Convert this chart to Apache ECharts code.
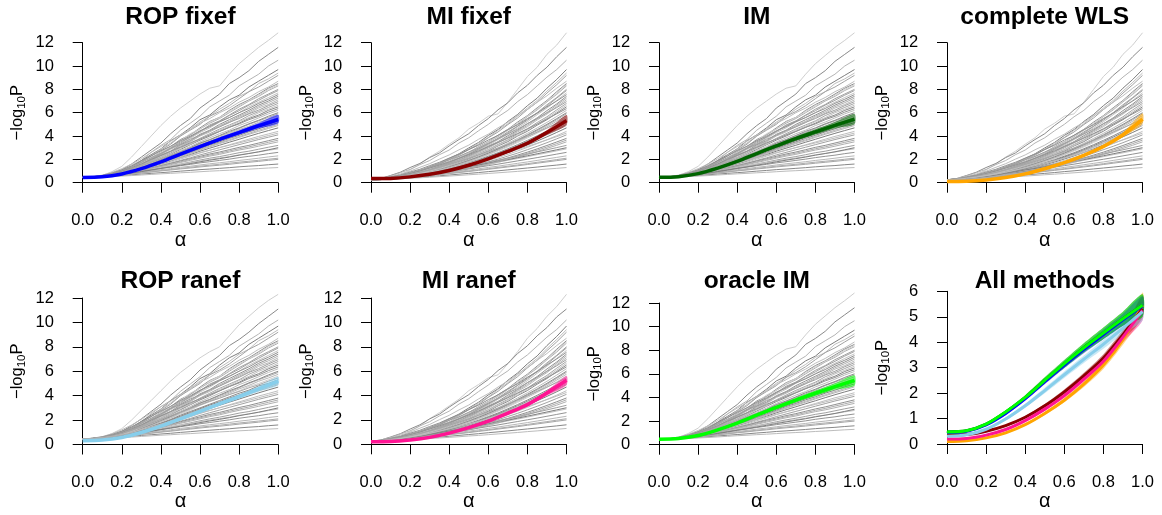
<!DOCTYPE html>
<html>
<head>
<meta charset="utf-8">
<script src="https://cdn.jsdelivr.net/npm/echarts@6/dist/echarts.min.js"></script>
<style>
  html, body { margin: 0; padding: 0; background: #ffffff; }
  #chart { width: 1162px; height: 515px; }
</style>
</head>
<body>
<div id="chart"></div>
<script>
// α values at which the replicate curves and the method summaries are stored
const alphaFine = [0, 0.05, 0.1, 0.15, 0.2, 0.25, 0.3, 0.35, 0.4, 0.45, 0.5,
                   0.55, 0.6, 0.65, 0.7, 0.75, 0.8, 0.85, 0.9, 0.95, 1];
const alphaCoarse = [0, 0.1, 0.2, 0.3, 0.4, 0.5, 0.6, 0.7, 0.8, 0.9, 1];

const xTickLabels = ['0.0', '0.2', '0.4', '0.6', '0.8', '1.0'];

// Replicate -log10 P curves, ROP / IM type methods (near-linear growth)
const greyLinear = [
  [.45,.5,.62,.95,1.4,2.2,3.1,4.0,4.9,5.7,6.4,7.0,7.6,8.1,8.3,9.3,10.2,10.9,11.6,12.2,12.85],
  [.45,.49,.6,.8,1.1,1.6,2.2,2.8,3.4,4.2,4.9,5.5,6.4,7.0,7.6,8.5,9.0,9.6,10.4,11.0,11.6],
  [.45,.5,.56,.77,1.0,1.5,1.9,2.6,3.2,3.7,4.5,5.1,5.7,6.5,7.0,7.5,8.3,8.8,9.3,10.0,10.5],
  [.45,.48,.57,.72,1.02,1.35,1.9,2.4,2.9,3.6,4.1,4.7,5.4,5.8,6.5,7.1,7.5,8.2,8.7,9.2,9.7],
  [.46,.5,.55,.74,.97,1.4,1.75,2.3,2.9,3.4,4.0,4.6,5.2,5.7,6.3,6.8,7.4,7.8,8.5,8.9,9.4],
  [.44,.49,.57,.7,1.0,1.3,1.8,2.3,2.8,3.3,4.0,4.5,5.0,5.7,6.1,6.6,7.2,7.8,8.2,8.7,9.2],
  [.45,.48,.56,.68,.95,1.25,1.7,2.1,2.65,3.1,3.7,4.1,4.7,5.25,5.6,6.2,6.7,7.1,7.6,8.1,8.5],
  [.45,.49,.55,.7,.9,1.25,1.6,2.1,2.6,3.0,3.6,4.1,4.6,5.1,5.5,6.0,6.5,7.0,7.4,7.9,8.3],
  [.45,.48,.55,.67,.92,1.2,1.6,2.0,2.5,2.95,3.5,3.9,4.4,4.95,5.3,5.8,6.3,6.7,7.2,7.6,8.0],
  [.45,.48,.53,.68,.88,1.2,1.5,2.0,2.4,2.85,3.3,3.8,4.3,4.7,5.2,5.6,6.0,6.5,6.9,7.3,7.7],
  [.45,.49,.53,.66,.86,1.16,1.5,1.9,2.35,2.7,3.25,3.6,4.15,4.5,5.0,5.4,5.8,6.2,6.65,7.0,7.4],
  [.45,.47,.53,.65,.85,1.1,1.45,1.85,2.2,2.65,3.1,3.5,4.0,4.35,4.8,5.15,5.6,5.95,6.4,6.7,7.1],
  [.45,.48,.52,.64,.84,1.1,1.4,1.8,2.15,2.55,3.0,3.35,3.8,4.2,4.6,4.95,5.3,5.75,6.1,6.45,6.8],
  [.45,.47,.53,.62,.82,1.05,1.37,1.7,2.1,2.45,2.85,3.25,3.65,4.0,4.4,4.75,5.1,5.5,5.8,6.2,6.5],
  [.45,.47,.52,.62,.79,1.03,1.3,1.65,2.0,2.35,2.75,3.1,3.5,3.85,4.2,4.5,4.9,5.2,5.55,5.9,6.2],
  [.45,.47,.51,.61,.78,1.0,1.27,1.6,1.9,2.25,2.6,2.95,3.35,3.65,4.0,4.3,4.65,5.0,5.3,5.6,5.9],
  [.45,.47,.51,.6,.76,.97,1.22,1.52,1.85,2.15,2.5,2.8,3.2,3.5,3.8,4.1,4.4,4.75,5.0,5.3,5.6],
  [.45,.47,.51,.6,.74,.94,1.18,1.47,1.76,2.05,2.4,2.7,3.0,3.3,3.6,3.9,4.2,4.45,4.8,5.0,5.3],
  [.45,.47,.5,.59,.72,.91,1.13,1.41,1.68,1.95,2.27,2.54,2.86,3.13,3.41,3.68,3.95,4.23,4.5,4.75,5.0],
  [.45,.47,.5,.58,.71,.88,1.09,1.34,1.6,1.85,2.15,2.41,2.7,2.96,3.21,3.47,3.72,3.98,4.23,4.47,4.7],
  [.45,.47,.5,.57,.69,.85,1.04,1.28,1.52,1.75,2.03,2.27,2.54,2.78,3.02,3.25,3.49,3.73,3.97,4.18,4.4],
  [.45,.47,.5,.56,.67,.82,1.0,1.22,1.44,1.65,1.91,2.13,2.38,2.6,2.82,3.04,3.26,3.48,3.7,3.9,4.1],
  [.45,.48,.55,.65,.79,.92,1.09,1.25,1.46,1.66,1.86,2.06,2.26,2.46,2.63,2.83,3.03,3.2,3.4,3.6,3.8],
  [.45,.48,.54,.63,.76,.88,1.03,1.18,1.37,1.55,1.73,1.91,2.1,2.28,2.43,2.62,2.8,2.95,3.13,3.32,3.5],
  [.45,.48,.53,.62,.73,.84,.97,1.11,1.28,1.44,1.6,1.77,1.94,2.1,2.24,2.4,2.57,2.7,2.87,3.04,3.2],
  [.45,.5,.57,.67,.79,.92,1.06,1.19,1.33,1.45,1.6,1.72,1.87,1.99,2.12,2.24,2.39,2.51,2.63,2.78,2.9],
  [.45,.49,.56,.64,.75,.86,.99,1.1,1.22,1.33,1.46,1.57,1.7,1.8,1.91,2.02,2.15,2.26,2.36,2.49,2.6],
  [.45,.49,.54,.62,.71,.8,.91,1.01,1.12,1.21,1.32,1.41,1.52,1.62,1.71,1.8,1.91,2.0,2.1,2.21,2.3],
  [.45,.48,.53,.59,.67,.74,.84,.92,1.01,1.09,1.18,1.26,1.35,1.43,1.5,1.58,1.67,1.75,1.83,1.92,2.0],
  [.45,.47,.51,.55,.61,.67,.74,.8,.86,.92,.99,1.05,1.12,1.17,1.23,1.29,1.36,1.42,1.47,1.54,1.6],
  [.45,.47,.49,.53,.57,.61,.66,.71,.76,.8,.85,.89,.94,.99,1.03,1.07,1.12,1.16,1.21,1.26,1.3],
  [.44,.47,.52,.58,.66,.75,.85,.94,1.04,1.13,1.23,1.32,1.42,1.5,1.58,1.67,1.76,1.84,1.92,2.01,2.1],
  [.45,.48,.55,.69,.93,1.3,1.65,2.15,2.6,3.1,3.6,4.2,4.6,5.2,5.6,6.1,6.6,7.05,7.5,8.0,8.4],
  [.45,.47,.52,.61,.8,1.0,1.3,1.6,1.95,2.3,2.65,3.0,3.4,3.7,4.05,4.4,4.7,5.05,5.35,5.7,6.0],
  [.45,.47,.5,.59,.72,.9,1.1,1.38,1.64,1.92,2.2,2.5,2.8,3.07,3.35,3.6,3.88,4.15,4.4,4.65,4.9],
  [.45,.48,.54,.62,.72,.83,.95,1.08,1.22,1.36,1.5,1.64,1.79,1.93,2.06,2.2,2.36,2.5,2.65,2.82,3.0],
  [.45,.52,.65,.88,1.2,1.6,2.05,2.6,3.1,3.55,4.1,4.55,5.1,5.5,6.0,6.4,6.9,7.3,7.8,8.2,8.7],
  [.45,.48,.54,.68,.89,1.22,1.55,2.03,2.44,2.93,3.4,3.9,4.38,4.87,5.27,5.76,6.17,6.65,7.06,7.5,7.9],
  [.45,.51,.62,.82,1.1,1.43,1.88,2.28,2.74,3.13,3.6,3.98,4.45,4.8,5.23,5.58,6.0,6.36,6.8,7.15,7.55],
  [.45,.48,.54,.64,.87,1.12,1.48,1.86,2.3,2.68,3.18,3.56,4.07,4.44,4.89,5.26,5.7,6.07,6.52,6.86,7.25],
  [.45,.5,.6,.79,1.03,1.37,1.74,2.15,2.52,2.94,3.3,3.72,4.07,4.47,4.78,5.18,5.5,5.9,6.22,6.6,6.95],
  [.45,.47,.53,.63,.83,1.06,1.39,1.74,2.13,2.48,2.95,3.29,3.76,4.1,4.5,4.84,5.24,5.58,5.99,6.3,6.65],
  [.45,.5,.59,.76,.97,1.29,1.62,1.99,2.33,2.7,3.04,3.42,3.74,4.09,4.39,4.75,5.04,5.4,5.69,6.05,6.35],
  [.45,.47,.52,.6,.78,.97,1.26,1.55,1.89,2.19,2.58,2.88,3.27,3.57,3.91,4.2,4.55,4.84,5.18,5.45,5.75],
  [.45,.49,.57,.71,.89,1.16,1.44,1.76,2.04,2.36,2.64,2.96,3.24,3.54,3.79,4.09,4.34,4.64,4.89,5.19,5.45],
  [.45,.47,.5,.6,.72,.93,1.15,1.45,1.71,2.01,2.32,2.62,2.93,3.23,3.5,3.8,4.06,4.36,4.62,4.9,5.15],
  [.45,.48,.55,.64,.79,.98,1.21,1.44,1.67,1.89,2.12,2.35,2.58,2.79,3.0,3.21,3.41,3.62,3.83,4.04,4.25],
  [.45,.48,.55,.64,.77,.9,1.06,1.22,1.41,1.6,1.79,1.99,2.18,2.37,2.53,2.72,2.91,3.07,3.27,3.46,3.65]
];

// Replicate -log10 P curves, MI / WLS type methods (convex growth)
const greyConvex = [
  [.25,.3,.45,.65,1.1,1.6,2.2,2.7,3.3,3.85,4.6,5.1,5.7,5.9,6.9,8.0,9.1,9.9,11.0,11.8,12.85],
  [.25,.36,.62,.9,1.3,1.65,2.15,2.55,3.15,3.7,4.2,4.9,5.5,6.25,6.85,7.7,8.35,9.2,9.9,10.8,11.6],
  [.25,.35,.58,.86,1.14,1.55,1.9,2.4,2.8,3.4,3.85,4.45,5.0,5.65,6.2,6.95,7.55,8.3,9.05,9.7,10.5],
  [.25,.3,.41,.55,.78,1.0,1.36,1.66,2.08,2.48,2.98,3.45,4.05,4.55,5.25,5.85,6.6,7.25,8.1,8.85,9.7],
  [.25,.3,.39,.56,.74,1.02,1.28,1.65,2.0,2.45,2.86,3.4,3.88,4.5,5.05,5.7,6.4,7.05,7.85,8.6,9.4],
  [.25,.29,.4,.54,.75,.97,1.3,1.58,1.98,2.36,2.84,3.28,3.85,4.35,4.98,5.55,6.27,6.9,7.68,8.4,9.2],
  [.25,.29,.38,.53,.7,.94,1.18,1.52,1.82,2.22,2.6,3.08,3.52,4.07,4.57,5.2,5.75,6.42,7.05,7.8,8.5],
  [.25,.29,.37,.52,.7,.9,1.19,1.46,1.82,2.15,2.58,2.97,3.48,3.93,4.5,5.02,5.66,6.24,6.93,7.57,8.3],
  [.25,.29,.38,.5,.69,.88,1.15,1.41,1.75,2.08,2.48,2.88,3.35,3.8,4.35,4.85,5.45,6.0,6.68,7.3,8.0],
  [.25,.29,.36,.5,.67,.86,1.1,1.38,1.67,2.03,2.38,2.8,3.2,3.7,4.15,4.7,5.22,5.83,6.4,7.05,7.7],
  [.25,.28,.37,.49,.65,.83,1.08,1.32,1.63,1.94,2.31,2.67,3.12,3.52,4.03,4.5,5.05,5.56,6.18,6.75,7.4],
  [.25,.28,.36,.48,.62,.82,1.03,1.29,1.56,1.89,2.21,2.6,2.96,3.42,3.83,4.35,4.8,5.38,5.88,6.52,7.1],
  [.25,.28,.35,.47,.61,.8,.99,1.25,1.5,1.82,2.12,2.5,2.84,3.28,3.68,4.17,4.6,5.16,5.65,6.24,6.8],
  [.25,.28,.34,.46,.6,.76,.96,1.2,1.44,1.75,2.03,2.4,2.72,3.15,3.52,4.0,4.41,4.93,5.4,5.97,6.5],
  [.25,.28,.35,.45,.58,.74,.93,1.15,1.39,1.67,1.96,2.28,2.62,2.99,3.38,3.8,4.23,4.69,5.17,5.68,6.2],
  [.25,.28,.34,.44,.56,.71,.9,1.1,1.33,1.59,1.87,2.18,2.5,2.85,3.22,3.62,4.03,4.46,4.92,5.4,5.9],
  [.25,.28,.34,.43,.54,.69,.87,1.06,1.28,1.52,1.79,2.07,2.38,2.71,3.06,3.44,3.83,4.24,4.67,5.13,5.6],
  [.25,.28,.33,.42,.53,.66,.83,1.01,1.22,1.45,1.7,1.97,2.27,2.57,2.91,3.26,3.63,4.02,4.43,4.86,5.3],
  [.25,.27,.33,.41,.51,.64,.8,.97,1.16,1.38,1.61,1.87,2.15,2.44,2.75,3.08,3.43,3.79,4.18,4.58,5.0],
  [.25,.27,.32,.4,.49,.61,.76,.92,1.1,1.31,1.53,1.77,2.03,2.3,2.59,2.9,3.23,3.57,3.93,4.31,4.7],
  [.25,.27,.32,.39,.48,.59,.73,.88,1.05,1.24,1.44,1.67,1.91,2.16,2.43,2.72,3.03,3.35,3.68,4.03,4.4],
  [.25,.27,.31,.38,.46,.57,.69,.83,.99,1.17,1.35,1.56,1.79,2.02,2.28,2.54,2.83,3.12,3.43,3.76,4.1],
  [.25,.27,.31,.37,.45,.54,.66,.79,.93,1.09,1.27,1.46,1.67,1.88,2.12,2.37,2.62,2.9,3.19,3.49,3.8],
  [.25,.27,.3,.36,.43,.52,.62,.74,.87,1.02,1.18,1.36,1.55,1.75,1.96,2.19,2.42,2.67,2.94,3.21,3.5],
  [.25,.31,.4,.5,.61,.74,.87,1.0,1.15,1.29,1.45,1.61,1.77,1.93,2.11,2.28,2.46,2.64,2.82,3.01,3.2],
  [.25,.3,.38,.48,.58,.69,.8,.93,1.06,1.19,1.33,1.47,1.61,1.76,1.92,2.07,2.23,2.4,2.56,2.73,2.9],
  [.25,.3,.37,.45,.54,.64,.74,.85,.96,1.08,1.2,1.33,1.46,1.59,1.73,1.87,2.01,2.15,2.3,2.45,2.6],
  [.25,.29,.35,.42,.5,.59,.68,.77,.87,.98,1.08,1.19,1.31,1.42,1.54,1.66,1.78,1.91,2.04,2.17,2.3],
  [.25,.29,.34,.4,.47,.54,.62,.7,.78,.87,.96,1.06,1.15,1.25,1.35,1.45,1.56,1.67,1.78,1.89,2.0],
  [.25,.28,.32,.36,.42,.47,.53,.59,.66,.73,.8,.87,.95,1.02,1.1,1.18,1.26,1.34,1.43,1.51,1.6],
  [.25,.27,.3,.34,.38,.42,.47,.52,.57,.62,.68,.73,.79,.85,.91,.97,1.04,1.1,1.17,1.23,1.3],
  [.25,.29,.34,.41,.48,.56,.64,.72,.81,.9,1.0,1.1,1.2,1.31,1.41,1.52,1.63,1.75,1.86,1.98,2.1],
  [.25,.29,.38,.52,.7,.92,1.19,1.48,1.81,2.19,2.59,3.03,3.5,4.0,4.54,5.11,5.7,6.33,6.99,7.68,8.4],
  [.25,.28,.34,.44,.57,.72,.91,1.12,1.35,1.62,1.9,2.21,2.54,2.9,3.27,3.68,4.1,4.54,5.0,5.49,6.0],
  [.25,.27,.32,.4,.51,.63,.78,.95,1.14,1.36,1.58,1.84,2.11,2.39,2.7,3.02,3.36,3.72,4.1,4.49,4.9],
  [.25,.31,.39,.48,.59,.7,.82,.95,1.09,1.22,1.37,1.52,1.67,1.82,1.98,2.14,2.31,2.48,2.65,2.82,3.0],
  [.25,.34,.51,.75,.99,1.32,1.63,2.02,2.38,2.82,3.22,3.72,4.16,4.7,5.18,5.76,6.28,6.9,7.45,8.1,8.7],
  [.25,.29,.37,.51,.66,.89,1.12,1.42,1.71,2.08,2.44,2.87,3.29,3.79,4.25,4.83,5.35,5.98,6.56,7.25,7.9],
  [.25,.33,.49,.66,.91,1.15,1.46,1.75,2.11,2.44,2.84,3.21,3.66,4.06,4.55,4.97,5.5,5.95,6.5,7.0,7.55],
  [.25,.29,.36,.49,.63,.83,1.05,1.32,1.58,1.93,2.25,2.65,3.03,3.49,3.91,4.44,4.91,5.49,6.02,6.65,7.25],
  [.25,.32,.47,.63,.86,1.08,1.36,1.63,1.96,2.26,2.63,2.97,3.38,3.75,4.19,4.59,5.06,5.49,5.98,6.44,6.95],
  [.25,.28,.35,.46,.6,.77,.99,1.22,1.48,1.77,2.09,2.43,2.8,3.19,3.62,4.06,4.53,5.02,5.54,6.09,6.65],
  [.25,.32,.45,.6,.79,1.01,1.25,1.51,1.79,2.09,2.41,2.74,3.09,3.45,3.82,4.22,4.62,5.03,5.46,5.9,6.35],
  [.25,.28,.34,.43,.55,.7,.88,1.08,1.31,1.56,1.83,2.13,2.44,2.78,3.14,3.53,3.93,4.35,4.8,5.27,5.75],
  [.25,.31,.42,.55,.71,.9,1.1,1.33,1.57,1.82,2.09,2.37,2.67,2.97,3.3,3.63,3.97,4.33,4.69,5.07,5.45],
  [.25,.27,.33,.41,.52,.65,.81,.99,1.19,1.42,1.66,1.92,2.21,2.5,2.83,3.17,3.53,3.91,4.3,4.72,5.15],
  [.25,.29,.38,.48,.61,.75,.91,1.08,1.26,1.46,1.67,1.88,2.11,2.35,2.59,2.85,3.11,3.39,3.67,3.95,4.25],
  [.25,.27,.3,.36,.44,.53,.64,.76,.9,1.06,1.23,1.41,1.61,1.81,2.04,2.28,2.52,2.79,3.06,3.35,3.65]
];

// The three highest replicate curves under the random-effects fits
const ranefLinearTop = [
  [.45,.5,.6,.9,1.3,2.0,2.8,3.6,4.4,5.2,5.9,6.5,7.1,7.6,8.0,8.9,9.8,10.5,11.2,11.8,12.3],
  [.45,.49,.59,.78,1.07,1.55,2.1,2.7,3.3,4.05,4.7,5.3,6.1,6.7,7.3,8.1,8.6,9.2,9.9,10.5,11.1],
  [.45,.5,.56,.76,.98,1.45,1.85,2.5,3.1,3.6,4.35,4.95,5.55,6.3,6.8,7.3,8.05,8.55,9.05,9.7,10.2]
];
const ranefConvexTop = [
  [.25,.3,.44,.63,1.05,1.5,2.1,2.6,3.15,3.7,4.4,4.9,5.45,5.7,6.6,7.6,8.7,9.5,10.5,11.3,12.3],
  [.25,.35,.6,.87,1.25,1.6,2.08,2.47,3.05,3.58,4.07,4.74,5.32,6.05,6.63,7.45,8.08,8.9,9.58,10.45,11.1],
  [.25,.35,.57,.84,1.11,1.51,1.85,2.33,2.72,3.3,3.74,4.32,4.86,5.49,6.02,6.75,7.33,8.06,8.79,9.42,10.2]
];

// Method summaries at alphaCoarse: central curve and spread across replicates
const ropFixefMid = [.45,.5,.75,1.2,1.78,2.45,3.1,3.72,4.3,4.88,5.42];
const ropFixefLo  = [.42,.47,.71,1.14,1.7,2.35,2.98,3.57,4.12,4.65,5.08];
const ropFixefHi  = [.48,.54,.8,1.27,1.87,2.56,3.23,3.87,4.5,5.12,5.82];

const miFixefMid = [.35,.37,.5,.72,1.05,1.5,2.05,2.68,3.38,4.3,5.32];
const miFixefLo  = [.33,.35,.47,.68,1.0,1.43,1.96,2.56,3.23,4.1,4.95];
const miFixefHi  = [.37,.39,.53,.76,1.1,1.57,2.14,2.8,3.53,4.5,5.8];

const imMid = [.47,.52,.78,1.25,1.82,2.5,3.15,3.78,4.35,4.92,5.45];
const imLo  = [.43,.48,.73,1.18,1.73,2.38,3.0,3.6,4.13,4.65,5.0];
const imHi  = [.51,.56,.83,1.32,1.92,2.62,3.3,3.96,4.58,5.2,5.88];

const wlsMid = [.1,.13,.24,.44,.76,1.2,1.72,2.35,3.1,4.1,5.45];
const wlsLo  = [.09,.11,.22,.41,.72,1.14,1.64,2.24,2.95,3.9,5.05];
const wlsHi  = [.11,.15,.26,.47,.8,1.26,1.8,2.46,3.25,4.3,5.95];

const ropRanefMid = [.3,.36,.58,.98,1.5,2.1,2.72,3.33,3.92,4.55,5.2];
const ropRanefLo  = [.28,.33,.54,.92,1.42,1.99,2.59,3.18,3.74,4.32,4.85];
const ropRanefHi  = [.32,.39,.62,1.04,1.58,2.21,2.85,3.48,4.1,4.78,5.55];

const miRanefMid = [.2,.22,.35,.57,.92,1.37,1.9,2.55,3.25,4.2,5.25];
const miRanefLo  = [.18,.2,.32,.53,.87,1.3,1.81,2.44,3.1,4.0,4.85];
const miRanefHi  = [.22,.24,.38,.61,.97,1.44,1.99,2.66,3.4,4.4,5.6];

const oracleMid = [.47,.52,.78,1.26,1.83,2.5,3.16,3.78,4.36,4.92,5.45];
const oracleLo  = [.43,.48,.73,1.18,1.73,2.38,3.0,3.6,4.13,4.65,5.0];
const oracleHi  = [.51,.56,.83,1.32,1.92,2.62,3.3,3.96,4.58,5.2,5.88];

const methodTitles = ['ROP fixef', 'MI fixef', 'IM', 'complete WLS',
                      'ROP ranef', 'MI ranef', 'oracle IM', 'All methods'];

// ---------- styling ----------
const FONT = '"Liberation Sans", Arial, Helvetica, sans-serif';
const greyShades = ['#cfcfcf','#8a8a8a','#b4b4b4','#7e7e7e','#bebebe','#a2a2a2','#909090','#b0b0b0',
                    '#a0a0a0','#c2c2c2','#939393','#b8b8b8','#a6a6a6','#888888','#bcbcbc','#acacac'];

const methods = {
  ropFixef:  { mid: ropFixefMid, lo: ropFixefLo, hi: ropFixefHi, color: '#0000ff' },
  miFixef:   { mid: miFixefMid,  lo: miFixefLo,  hi: miFixefHi,  color: '#8b0000' },
  im:        { mid: imMid,       lo: imLo,       hi: imHi,       color: '#006400' },
  wls:       { mid: wlsMid,      lo: wlsLo,      hi: wlsHi,      color: '#ffa500' },
  ropRanef:  { mid: ropRanefMid, lo: ropRanefLo, hi: ropRanefHi, color: '#87ceeb' },
  miRanef:   { mid: miRanefMid,  lo: miRanefLo,  hi: miRanefHi,  color: '#ff1493' },
  oracle:    { mid: oracleMid,   lo: oracleLo,   hi: oracleHi,   color: '#00ff00' }
};

const greyLinearRanef = ranefLinearTop.concat(greyLinear.slice(3));
const greyConvexRanef = ranefConvexTop.concat(greyConvex.slice(3));

// ---------- panel layout (pixels) ----------
const colLeft = [82.7, 371, 659, 947];
const plotWidth = 195.5;
const panels = [
  { col: 0, zeroPx: 182.7, topPx: 42.7, yMax: 12, yStep: 2, axisPx: 189.3, titlePx: 17.2, grey: greyLinear, draw: ['ropFixef'] },
  { col: 1, zeroPx: 182.7, topPx: 42.7, yMax: 12, yStep: 2, axisPx: 189.3, titlePx: 17.2, grey: greyConvex, draw: ['miFixef'] },
  { col: 2, zeroPx: 182.7, topPx: 42.7, yMax: 12, yStep: 2, axisPx: 189.3, titlePx: 17.2, grey: greyLinear, draw: ['im'] },
  { col: 3, zeroPx: 182.7, topPx: 42.7, yMax: 12, yStep: 2, axisPx: 189.3, titlePx: 17.2, grey: greyConvex, draw: ['wls'] },
  { col: 0, zeroPx: 444.5, topPx: 298,  yMax: 12, yStep: 2, axisPx: 450.5, titlePx: 281, grey: greyLinearRanef, draw: ['ropRanef'] },
  { col: 1, zeroPx: 444.3, topPx: 298,  yMax: 12, yStep: 2, axisPx: 450.5, titlePx: 281, grey: greyConvexRanef, draw: ['miRanef'] },
  { col: 2, zeroPx: 444.7, topPx: 303,  yMax: 12, yStep: 2, axisPx: 450.5, titlePx: 281, grey: greyLinear, draw: ['oracle'] },
  { col: 3, zeroPx: 444,   topPx: 291.3, yMax: 6, yStep: 1, axisPx: 450.5, titlePx: 281, grey: null,
    draw: ['wls', 'miFixef', 'miRanef', 'ropRanef', 'im', 'ropFixef', 'oracle'] }
];

const grids = [], xAxes = [], yAxes = [], series = [], graphics = [];

panels.forEach((p, i) => {
  const left = colLeft[p.col];
  grids.push({ left: left, top: p.topPx, width: plotWidth, height: p.zeroPx - p.topPx });

  xAxes.push({
    gridIndex: i, type: 'value', min: 0, max: 1, interval: 0.2,
    offset: p.axisPx - p.zeroPx,
    axisLine: { show: true, lineStyle: { color: '#000', width: 1 } },
    axisTick: { show: true, length: 10, lineStyle: { color: '#000', width: 1 } },
    splitLine: { show: false },
    axisLabel: {
      color: '#000', fontSize: 16.5, fontFamily: FONT, margin: 23,
      formatter: v => xTickLabels[Math.round(v / 0.2)]
    },
    name: 'α', nameLocation: 'middle', nameGap: 40,
    nameTextStyle: { color: '#000', fontSize: 20, fontFamily: FONT }
  });

  yAxes.push({
    gridIndex: i, type: 'value', min: 0, max: p.yMax, interval: p.yStep,
    offset: 7.8,
    axisLine: { show: true, lineStyle: { color: '#000', width: 1 } },
    axisTick: { show: true, length: 10, lineStyle: { color: '#000', width: 1 } },
    splitLine: { show: false },
    axisLabel: { color: '#000', fontSize: 16.5, fontFamily: FONT, margin: 21 },
    name: '{m|−log}{s|10}{m|P}', nameLocation: 'middle', nameGap: 47, nameRotate: 90,
    nameTextStyle: {
      color: '#000', fontFamily: FONT,
      rich: {
        m: { fontSize: 16.5, fontFamily: FONT, color: '#000', lineHeight: 20 },
        s: { fontSize: 11.5, fontFamily: FONT, color: '#000', lineHeight: 14, verticalAlign: 'bottom' }
      }
    }
  });

  if (p.grey) {
    p.grey.forEach((curve, k) => {
      series.push({
        type: 'line', xAxisIndex: i, yAxisIndex: i, silent: true, clip: false,
        showSymbol: false, symbol: 'none', z: 1,
        lineStyle: { color: greyShades[k % greyShades.length], width: 1 },
        data: alphaFine.map((a, j) => [a, curve[j]])
      });
    });
  }

  const single = p.draw.length === 1;
  p.draw.forEach(key => {
    const m = methods[key];
    series.push({
      type: 'custom', xAxisIndex: i, yAxisIndex: i, silent: true, clip: false, z: 2,
      data: [0],
      renderItem: (params, api) => {
        const pts = [];
        alphaCoarse.forEach((a, j) => pts.push(api.coord([a, m.hi[j]])));
        for (let j = alphaCoarse.length - 1; j >= 0; j--) pts.push(api.coord([alphaCoarse[j], m.lo[j]]));
        return {
          type: 'polygon', shape: { points: pts, smooth: 0.25 },
          style: { fill: m.color, opacity: single ? 0.55 : 0.45 }
        };
      }
    });
    series.push({
      type: 'line', xAxisIndex: i, yAxisIndex: i, silent: true, clip: false,
      showSymbol: false, symbol: 'none', smooth: 0.3, z: 3,
      lineStyle: { color: m.color, width: single ? 3.5 : 3 },
      data: alphaCoarse.map((a, j) => [a, m.mid[j]])
    });
  });

  graphics.push({
    type: 'text', silent: true,
    style: {
      text: methodTitles[i], x: left + plotWidth / 2, y: p.titlePx,
      font: 'bold 24.5px ' + FONT, fill: '#000',
      textAlign: 'center', textVerticalAlign: 'middle', align: 'center', verticalAlign: 'middle'
    }
  });
});

const chart = echarts.init(document.getElementById('chart'), null, { renderer: 'canvas' });
chart.setOption({
  animation: false,
  backgroundColor: '#ffffff',
  grid: grids,
  xAxis: xAxes,
  yAxis: yAxes,
  series: series,
  graphic: graphics
});
</script>
</body>
</html>
